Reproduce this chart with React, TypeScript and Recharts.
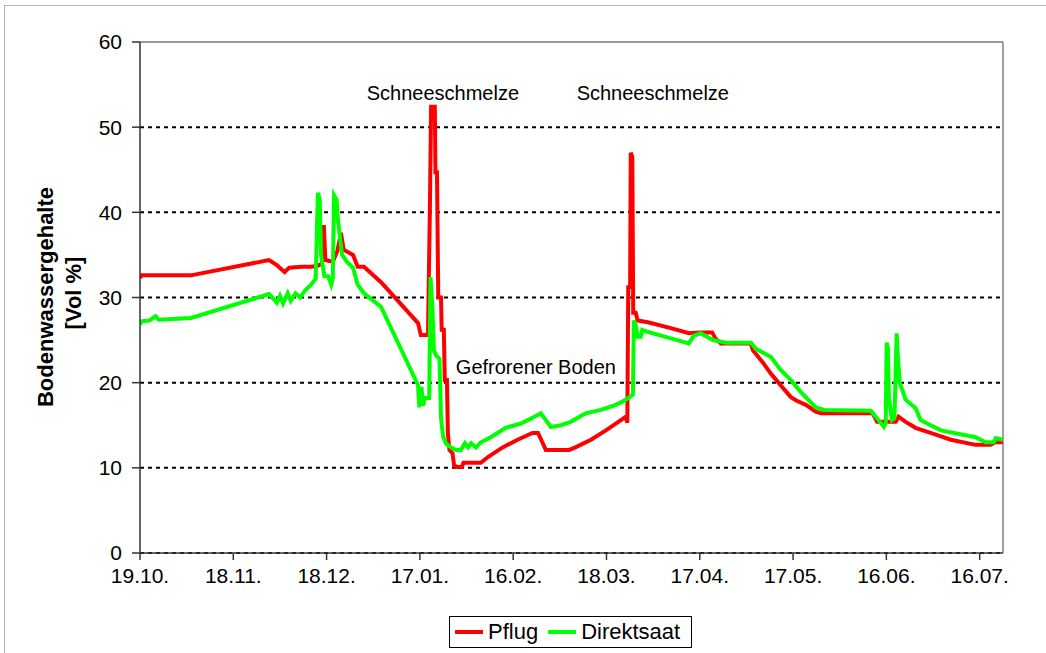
import {
  LineChart,
  Line,
  XAxis,
  YAxis,
  CartesianGrid,
  Legend,
  ReferenceDot,
  ReferenceLine,
} from "recharts";

// x = days since 19.10.
const tickDays = [0, 30, 60, 90, 120, 150, 180, 210, 240, 270];
const tickLabels = [
  "19.10.",
  "18.11.",
  "18.12.",
  "17.01.",
  "16.02.",
  "18.03.",
  "17.04.",
  "17.05.",
  "16.06.",
  "16.07.",
];
const yTicks = [0, 10, 20, 30, 40, 50, 60];

// Pflug [day, Vol %]
const pflug: [number, number][] = [
  [0, 32.3], [0.5, 32.6], [16.4, 32.6], [41.5, 34.4], [44, 33.8], [46.5, 33.0],
  [48, 33.5], [52, 33.6], [55, 33.6], [57, 33.7], [58.5, 34.0], [59.1, 38.5],
  [59.6, 34.4], [62, 34.2], [63.5, 35.5], [64.6, 37.6], [65.5, 35.6], [68.5, 35.0],
  [70, 33.6], [72, 33.6], [77.5, 31.8], [89.4, 27.0], [90.3, 25.6], [92.6, 25.6],
  [93.2, 40], [93.6, 52.4], [94.8, 52.4], [95, 44.7], [95.5, 44.7], [95.9, 30],
  [96.8, 30], [97, 26.2], [97.7, 26.2], [98, 20.3], [98.7, 20.3], [99, 14],
  [99.5, 12.1], [100.5, 11.7], [101, 10.3], [102, 10.1], [103.5, 10.1], [104, 10.6],
  [109.6, 10.6], [112, 11.3], [116.6, 12.4], [121.4, 13.3], [126.2, 14.1], [128, 14.1],
  [129, 13.3], [130.5, 12.1], [138, 12.1], [140, 12.4], [145, 13.3], [149.8, 14.4],
  [153, 15.2], [156.2, 16], [156.7, 15.3], [157, 31.2], [157.6, 31.2], [157.8, 47],
  [158.3, 46.5], [158.6, 28.2], [159.4, 28.2], [160, 27.3], [163.3, 27.1], [170.7, 26.4],
  [176.5, 25.8], [180.3, 25.9], [184, 25.9], [185, 25.2], [186.8, 24.6], [196.4, 24.6],
  [197.1, 23.8], [200, 22.5], [203, 21], [206, 19.7], [209.3, 18.3], [211, 17.9],
  [214.1, 17.4], [217.3, 16.6], [219, 16.4], [235.6, 16.4], [237, 15.4], [243, 15.4],
  [243.9, 16], [246.2, 15.4], [249.4, 14.7], [255.9, 13.9], [260.7, 13.3], [268.7, 12.7],
  [273.5, 12.7], [275, 13.0], [277.4, 13.0],
];

// Direktsaat [day, Vol %]
const direktsaat: [number, number][] = [
  [0, 26.8], [0.5, 27.2], [3, 27.3], [5, 27.8], [6, 27.4], [16.4, 27.6],
  [41.5, 30.4], [43, 29.8], [44, 29.4], [45, 30.2], [46, 29.3], [47.5, 30.5],
  [48.5, 29.6], [50, 30.5], [51.5, 30.0], [53, 30.8], [55, 31.5], [56.5, 32.2],
  [57.2, 42.3], [57.8, 41.5], [58.2, 35], [59.3, 32.5], [60.5, 32.5], [61.5, 31.5],
  [62, 32.3], [62.4, 42], [63.2, 41.5], [63.6, 39.4], [64.3, 37], [65, 35],
  [66.5, 34.2], [68.5, 33.5], [70, 31.5], [72, 30.5], [77.5, 28.9], [89.4, 19.7],
  [89.8, 17.1], [90.5, 19.5], [91, 17.3], [91.6, 18.2], [93, 18.2], [93.4, 32.4],
  [94, 29], [94.5, 23.8], [95.2, 23.2], [96.3, 22.8], [96.8, 15.8], [97.5, 13.6],
  [98.5, 12.8], [100, 12.4], [101.6, 12.1], [103.2, 12.1], [104.5, 12.9], [105.5, 12.4],
  [106.5, 12.9], [108, 12.4], [109.6, 13.0], [112.8, 13.6], [117.6, 14.7], [122.5, 15.2],
  [125.7, 15.8], [128.9, 16.4], [130.5, 15.6], [132.1, 14.8], [135.3, 15.0], [138.5, 15.4],
  [143.3, 16.4], [148.2, 16.8], [153, 17.4], [156.2, 18.0], [158.5, 18.6], [158.8, 27.3],
  [159.4, 26.8], [160, 25.4], [161, 25.4], [161.5, 26.2], [163, 26.0], [170.7, 25.2],
  [176.5, 24.6], [178, 25.5], [180.3, 25.8], [184.2, 25.0], [188.4, 24.7], [196.4, 24.7],
  [198, 24.0], [202.9, 23], [206, 21.5], [209.3, 20.3], [212.5, 18.9], [217.3, 17.1],
  [220, 16.8], [235, 16.7], [237.5, 15.6], [239.2, 14.8], [239.8, 15.2], [240.1, 24.7],
  [240.5, 24], [240.8, 18.3], [241.8, 15.6], [242.6, 15.8], [243.3, 25.8], [243.7, 23],
  [244.3, 20], [246.2, 18], [249.4, 17], [251, 15.6], [257.5, 14.4], [268.7, 13.6],
  [271.9, 13.0], [274.5, 13.0], [275.2, 13.5], [277.4, 13.3],
];

// annotations [day, value, text]
const notes: [number, number, string][] = [
  [97.4, 54.0, "Schneeschmelze"],
  [164.9, 54.0, "Schneeschmelze"],
  [127.3, 21.8, "Gefrorener Boden"],
];

const series = [
  { name: "Pflug", color: "#ff0000", data: pflug.map(([day, v]) => ({ day, v })) },
  { name: "Direktsaat", color: "#00ff00", data: direktsaat.map(([day, v]) => ({ day, v })) },
];

const FONT = "'Liberation Sans', Arial, sans-serif";

function LegendBox() {
  return (
    <div
      style={{
        boxSizing: "border-box",
        width: 243,
        height: 32,
        border: "1px solid #000",
        display: "flex",
        alignItems: "center",
        paddingLeft: 5,
        fontFamily: FONT,
        fontSize: 22,
        color: "#000",
        background: "#fff",
      }}
    >
      {series.map((s) => (
        <span key={s.name} style={{ display: "flex", alignItems: "center", marginRight: 10 }}>
          <span style={{ display: "inline-block", width: 28, height: 4, background: s.color, marginRight: 5 }} />
          {s.name}
        </span>
      ))}
    </div>
  );
}

function YLabel() {
  return (
    <g fontFamily={FONT} fontSize={22} fontWeight="bold" fill="#000">
      <text x={45} y={297} transform="rotate(-90 45 297)" textAnchor="middle" dominantBaseline="central">
        Bodenwassergehalte
      </text>
      <text x={73} y={293} transform="rotate(-90 73 293)" textAnchor="middle" dominantBaseline="central">
        [Vol %]
      </text>
    </g>
  );
}

export default function App() {
  return (
    <div
      style={{
        position: "absolute",
        left: 0,
        top: 0,
        width: 1046,
        height: 653,
        overflow: "hidden",
        background: "#fff",
      }}
    >
      <div
        style={{
          position: "absolute",
          left: 4,
          top: 5,
          width: 1060,
          height: 660,
          border: "1px solid #b4b4b4",
        }}
      />
      <div style={{ position: "absolute", left: 0, top: 0 }}>
        <LineChart width={1046} height={653} margin={{ top: 42, right: 43, left: 80, bottom: 5 }}>
          <CartesianGrid vertical={false} stroke="#000" strokeWidth={2} strokeDasharray="4 4" />
          <XAxis
            type="number"
            dataKey="day"
            domain={[0, 277.5]}
            allowDataOverflow
            ticks={tickDays}
            tickFormatter={(d: number) => tickLabels[tickDays.indexOf(d)] ?? ""}
            interval={0}
            height={63}
            tickSize={7}
            tickMargin={8}
            stroke="#333"
            strokeWidth={1.5}
            tick={{ fontSize: 21, fontFamily: FONT, fill: "#000" }}
          />
          <YAxis
            domain={[0, 60]}
            ticks={yTicks}
            interval={0}
            width={60}
            tickSize={8}
            tickMargin={10}
            stroke="#333"
            strokeWidth={1.5}
            tick={{ fontSize: 21, fontFamily: FONT, fill: "#000" }}
            label={{ content: () => <YLabel /> }}
          />
          <ReferenceLine y={60} stroke="#9a9a9a" strokeWidth={2} />
          <ReferenceLine x={277.5} stroke="#808080" strokeWidth={1.5} />
          {series.map((s) => (
            <Line
              key={s.name}
              data={s.data}
              dataKey="v"
              name={s.name}
              type="linear"
              stroke={s.color}
              strokeWidth={4}
              dot={false}
              activeDot={false}
              isAnimationActive={false}
            />
          ))}
          {notes.map(([d, v, t], i) => (
            <ReferenceDot
              key={i}
              x={d}
              y={v}
              r={0}
              fill="none"
              stroke="none"
              label={{ value: t, position: "center", fontSize: 20, fontFamily: FONT, fill: "#000" }}
            />
          ))}
          <Legend
            verticalAlign="bottom"
            content={() => <LegendBox />}
            wrapperStyle={{ left: 449, width: 243, top: 616, bottom: "auto" }}
          />
        </LineChart>
      </div>
    </div>
  );
}
